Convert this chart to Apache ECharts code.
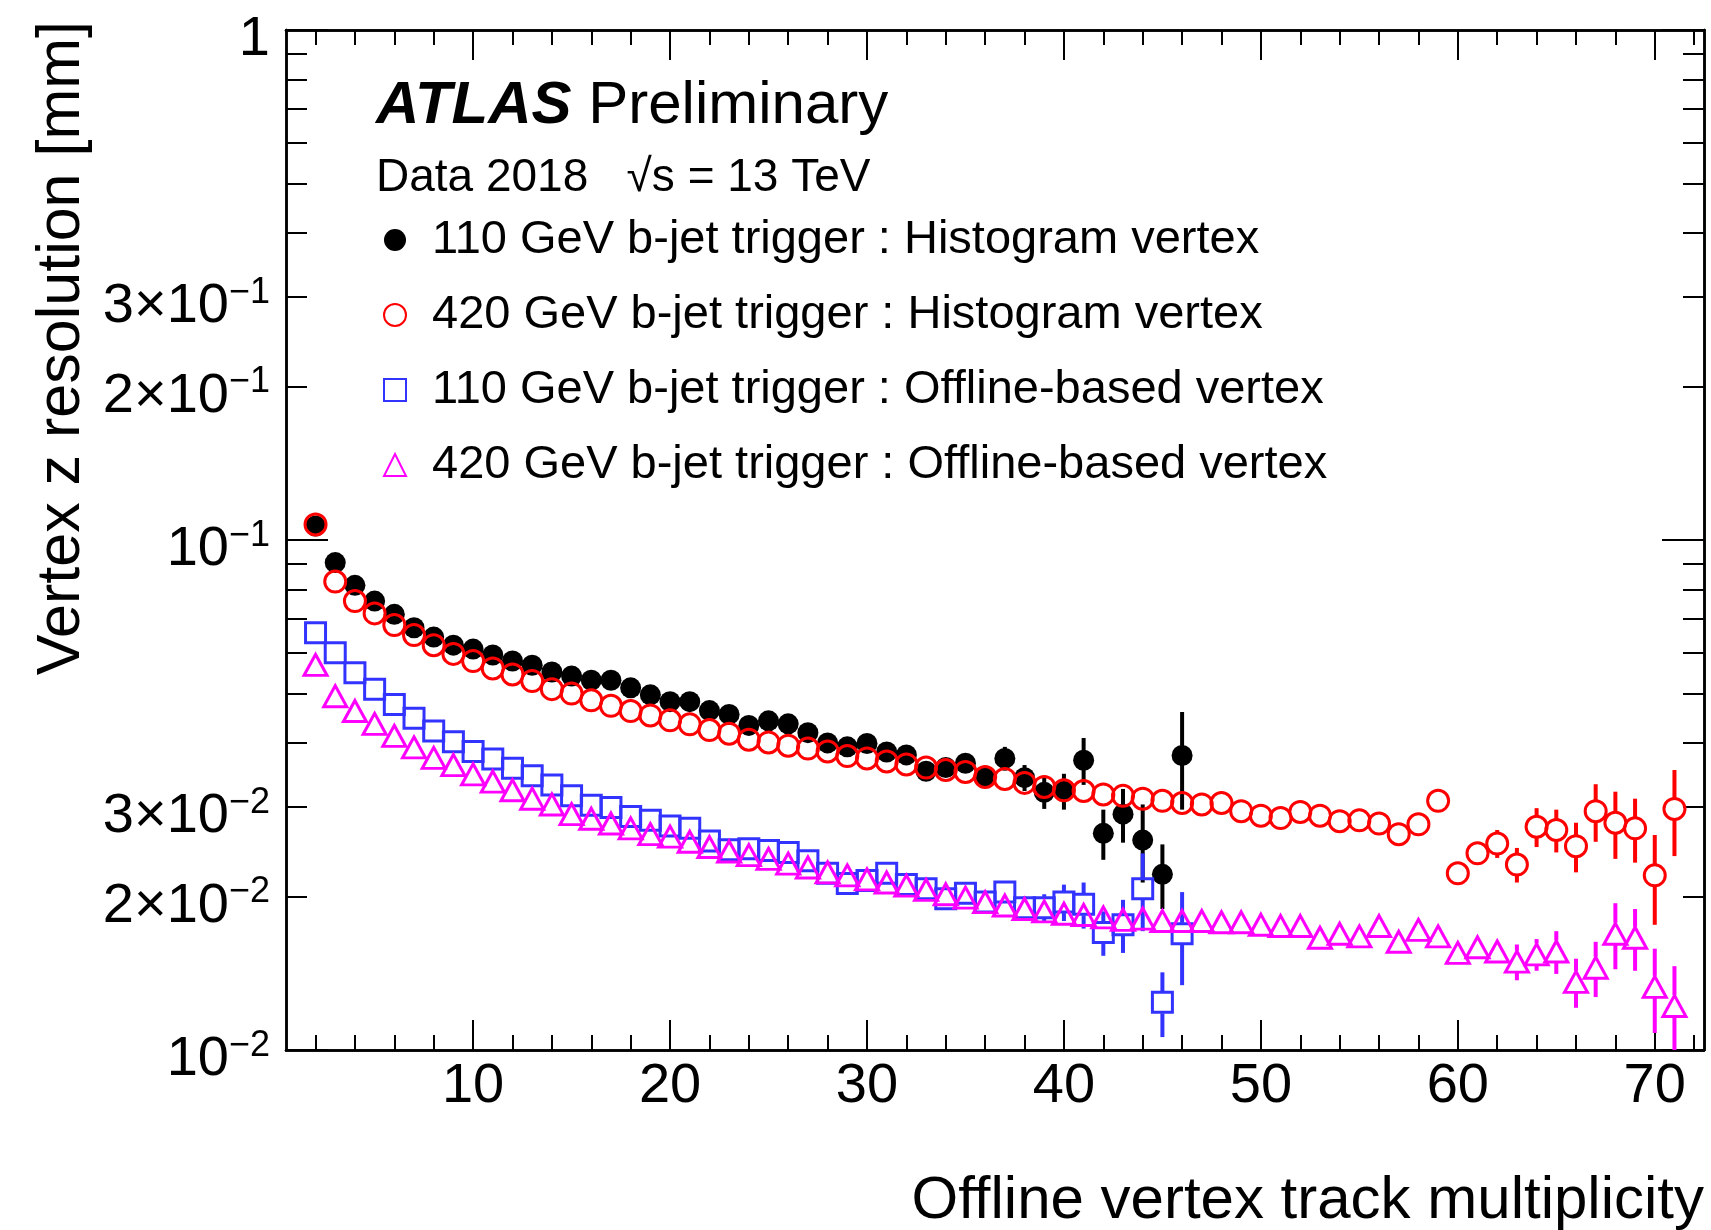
<!DOCTYPE html>
<html>
<head>
<meta charset="utf-8">
<script src="https://cdn.jsdelivr.net/npm/echarts@6/dist/echarts.min.js"></script>
<style>html,body{margin:0;padding:0;background:#fff}#c{width:1711px;height:1230px}</style>
</head>
<body>
<div id="c"></div>
<script>
// Offline vertex track multiplicity (bin centres)
const nLow = [2,3,4,5,6,7,8,9,10,11,12,13,14,15,16,17,18,19,20,21,22,23,24,25,26,27,28,29,30,31,32,33,34,35,36,37,38,39,40,41,42,43,44,45,46];
const nAll = [2,3,4,5,6,7,8,9,10,11,12,13,14,15,16,17,18,19,20,21,22,23,24,25,26,27,28,29,30,31,32,33,34,35,36,37,38,39,40,41,42,43,44,45,46,47,48,49,50,51,52,53,54,55,56,57,58,59,60,61,62,63,64,65,66,67,68,69,70,71];

// 110 GeV b-jet trigger : Histogram vertex
const hist110 = [0.1065,0.0903,0.0815,0.0759,0.0715,0.0673,0.0645,0.0622,0.0611,0.0595,
  0.0579,0.0568,0.0551,0.0541,0.0531,0.0531,0.0513,0.0497,0.0482,0.0482,
  0.0463,0.0455,0.0433,0.0442,0.0436,0.0419,0.0400,0.0393,0.0399,0.0384,
  0.0379,0.0352,0.0358,0.0365,0.0343,0.0373,0.0342,0.0320,0.0322,0.0370,
  0.0266,0.0290,0.0258,0.0221,0.0378];
const hist110Err = [0,0,0,0,0,0,0,0,0,0,0,0,0,0,0,0,0,0,0,0,0,0,0,0,0,0,0,0,
  0.0008,0.0008,0.0008,0.0008,0.0008,0.0008,0.0008,
  0.0020,0.0020,0.0023,0.0026,0.0039,0.0030,0.0035,0.0045,0.0032,0.0082];

// 420 GeV b-jet trigger : Histogram vertex
const hist420 = [0.1073,0.0829,0.0759,0.0718,0.0681,0.0651,0.0622,0.0598,0.0579,0.0560,
  0.0545,0.0529,0.0510,0.0500,0.0485,0.0473,0.0462,0.0453,0.0443,0.0435,
  0.0424,0.0417,0.0406,0.0401,0.0395,0.0390,0.0385,0.0377,0.0373,0.0368,
  0.0363,0.0358,0.0354,0.0351,0.0343,0.0340,0.0334,0.0328,0.0323,0.0322,
  0.0317,0.0315,0.0311,0.0308,0.0305,0.0303,0.0305,0.0294,0.0288,0.0285,
  0.0293,0.0288,0.0281,0.0282,0.0278,0.0265,0.0277,0.0308,0.0222,0.0243,
  0.0254,0.0231,0.0274,0.0270,0.0251,0.0294,0.0279,0.0272,0.0220,0.0297];
const hist420Err = [0,0,0,0,0,0,0,0,0,0,0,0,0,0,0,0,0,0,0,0,0,0,0,0,0,0,0,0,0,0,0,0,0,0,0,0,0,0,0,0,0,0,0,0,0,0,0,0,
  0.0003,0.0003,0.0003,0.0003,0.0003,0.0003,0.0003,0.0003,0.0003,0.0003,
  0.0004,0.0008,0.0016,0.0018,0.0024,0.0026,0.0028,0.0038,0.0042,0.0039,0.0044,0.0057];

// 110 GeV b-jet trigger : Offline-based vertex
const offl110 = [0.0658,0.0601,0.0549,0.0510,0.0476,0.0447,0.0422,0.0402,0.0385,0.0372,
  0.0357,0.0345,0.0331,0.0315,0.0302,0.0299,0.0287,0.0282,0.0275,0.0272,
  0.0257,0.0247,0.0248,0.0246,0.0244,0.0235,0.0222,0.0212,0.0215,0.0222,
  0.0211,0.0207,0.0198,0.0203,0.0195,0.0204,0.0190,0.0190,0.0195,0.0193,
  0.0170,0.0176,0.0207,0.0124,0.0169];
const offl110Err = [0,0,0,0,0,0,0,0,0,0,0,0,0,0,0,0,0,0,0,0,0,0,0,0,0,0,0,0,0,0,0,0,
  0.0005,0.0006,0.0007,0.0008,0.0010,0.0012,0.0016,0.0020,0.0017,0.0021,0.0036,0.0018,0.0035];

// 420 GeV b-jet trigger : Offline-based vertex
const offl420 = [0.0569,0.0494,0.0462,0.0436,0.0413,0.0392,0.0374,0.0362,0.0347,0.0336,
  0.0323,0.0311,0.0303,0.0290,0.0284,0.0278,0.0272,0.0265,0.0262,0.0256,
  0.0250,0.0245,0.0241,0.0237,0.0232,0.0228,0.0223,0.0220,0.0216,0.0213,
  0.0210,0.0206,0.0202,0.0199,0.0195,0.0192,0.0189,0.0187,0.0185,0.0184,
  0.0182,0.0180,0.0181,0.0179,0.0179,0.0179,0.0178,0.0178,0.0176,0.0175,
  0.0175,0.0166,0.0169,0.0167,0.0175,0.0163,0.0172,0.0167,0.0155,0.0159,
  0.0156,0.0149,0.0154,0.0156,0.0136,0.0145,0.0169,0.0166,0.0133,0.0122];
const offl420Err = [0,0,0,0,0,0,0,0,0,0,0,0,0,0,0,0,0,0,0,0,0,0,0,0,0,0,0,0,0,0,0,0,0,0,0,0,0,0,0,0,0,0,0,
  0.0003,0.0003,0.0003,0.0003,0.0003,0.0003,0.0003,0.0003,0.0003,0.0003,0.0003,0.0003,0.0003,0.0003,0.0003,
  0.0003,0.0006,0.0007,0.0012,0.0011,0.0015,0.0015,0.0018,0.0025,0.0023,0.0025,0.0024];

const seriesNames = [
  '110 GeV b-jet trigger : Histogram vertex',
  '420 GeV b-jet trigger : Histogram vertex',
  '110 GeV b-jet trigger : Offline-based vertex',
  '420 GeV b-jet trigger : Offline-based vertex'
];

// axis ticks
const xMajor = [10,20,30,40,50,60,70];
const xMinor = [2,4,6,8,12,14,16,18,22,24,26,28,32,34,36,38,42,44,46,48,52,54,56,58,62,64,66,68,72];
const yMajor = [0.01,0.1,1];
const yMinor = [0.02,0.03,0.04,0.05,0.06,0.07,0.08,0.09,0.2,0.3,0.4,0.5,0.6,0.7,0.8,0.9];
const yLabels = [0.01,0.02,0.03,0.1,0.2,0.3,1];

const FONT = '"Liberation Sans", Arial, Helvetica, sans-serif';
const BLACK = '#000000', RED = '#ff0000', BLUE = '#3333ff', MAG = '#ff00ff';

function pts(xs, ys) { return xs.map((x, i) => [x, ys[i]]); }
function errPts(xs, ys, es) { return xs.map((x, i) => [x, ys[i], es[i]]); }

function errRender(color, gap) {
  return function (params, api) {
    const x = api.value(0), v = api.value(1), e = api.value(2);
    if (!(e > 0)) return null;
    const c = api.coord([x, v]);
    const lo = api.coord([x, Math.max(v - e, 1e-4)]);
    const hi = api.coord([x, v + e]);
    const st = { stroke: color, lineWidth: 4 };
    const ch = [];
    if (lo[1] - c[1] > gap) ch.push({ type: 'line', shape: { x1: c[0], y1: c[1] + gap, x2: c[0], y2: lo[1] }, style: st });
    if (c[1] - hi[1] > gap) ch.push({ type: 'line', shape: { x1: c[0], y1: hi[1], x2: c[0], y2: c[1] - gap }, style: st });
    return { type: 'group', children: ch };
  };
}

function fmtY(v) {
  const exp = Math.floor(Math.log10(v) + 1e-9);
  const m = Math.round(v / Math.pow(10, exp));
  if (exp === 0 && m === 1) return '{m|1}';
  return '{m|' + (m === 1 ? '' : m + '×') + '10}{s|−' + (-exp) + '}';
}

const axisLineStyle = { color: BLACK, width: 2.5 };
function xAx(pos, vals, len, labels) {
  return {
    type: 'value', min: 0.5, max: 72.5, position: pos,
    axisLine: { show: true, onZero: false, lineStyle: axisLineStyle },
    axisTick: { show: true, inside: true, length: len, customValues: vals, lineStyle: { color: BLACK, width: 2 } },
    axisLabel: labels ? { show: true, customValues: xMajor, fontSize: 56, color: BLACK, fontFamily: FONT, margin: 9 } : { show: false },
    splitLine: { show: false }
  };
}
function yAx(pos, vals, len, labels) {
  return {
    type: 'log', logBase: 10, min: 0.01, max: 1, position: pos,
    axisLine: { show: true, onZero: false, lineStyle: axisLineStyle },
    axisTick: { show: true, inside: true, length: len, customValues: vals, lineStyle: { color: BLACK, width: 2 } },
    axisLabel: labels ? {
      show: true, customValues: yLabels, formatter: fmtY, margin: 16, padding: [16, 0, 0, 0],
      rich: {
        m: { fontSize: 56, fontFamily: FONT, color: BLACK, lineHeight: 60, verticalAlign: 'bottom' },
        s: { fontSize: 36, fontFamily: FONT, color: BLACK, lineHeight: 60, verticalAlign: 'top' }
      }
    } : { show: false },
    splitLine: { show: false }
  };
}

const chart = echarts.init(document.getElementById('c'), null, { renderer: 'canvas' });
chart.setOption({
  animation: false,
  backgroundColor: '#ffffff',
  grid: { left: 286, right: 7, top: 30, bottom: 180, containLabel: false },
  xAxis: [
    xAx('bottom', xMajor, 30, true),
    xAx('bottom', xMinor, 15, false),
    xAx('top', xMajor, 30, false),
    xAx('top', xMinor, 15, false)
  ],
  yAxis: [
    yAx('left', yMajor, 42, true),
    yAx('left', yMinor, 21, false),
    yAx('right', yMajor, 42, false),
    yAx('right', yMinor, 21, false)
  ],
  legend: {
    show: true, orient: 'vertical', left: 378, top: 210,
    itemWidth: 22, itemHeight: 22, itemGap: 25,
    data: seriesNames,
    textStyle: { fontSize: 47, fontFamily: FONT, color: BLACK, lineHeight: 50, padding: [0, 0, 0, 21] },
    selectedMode: false
  },
  graphic: [
    { type: 'text', left: 376, top: 76, style: {
      text: '{a|ATLAS}{b| Preliminary}',
      rich: {
        a: { fontSize: 60, fontWeight: 'bold', fontStyle: 'italic', fontFamily: FONT, fill: BLACK },
        b: { fontSize: 60, fontFamily: FONT, fill: BLACK }
      } } },
    { type: 'text', left: 376, top: 155, style: { text: 'Data 2018   √s = 13 TeV', fontSize: 46, fontFamily: FONT, fill: BLACK } },
    { type: 'text', right: 7, top: 1171, style: { text: 'Offline vertex track multiplicity', fontSize: 60, fontFamily: FONT, fill: BLACK } },
    { type: 'text', x: 62, y: 21, rotation: Math.PI / 2, style: { text: 'Vertex z resolution [mm]', fontSize: 61, fontFamily: FONT, fill: BLACK, align: 'right', verticalAlign: 'middle' } }
  ],
  series: [
    { type: 'custom', name: 'err0', renderItem: errRender(BLACK, 0), data: errPts(nLow, hist110, hist110Err), encode: { x: 0, y: 1 }, clip: true, z: 1, silent: true },
    { type: 'custom', name: 'err1', renderItem: errRender(RED, 11), data: errPts(nAll, hist420, hist420Err), encode: { x: 0, y: 1 }, clip: true, z: 1, silent: true },
    { type: 'custom', name: 'err2', renderItem: errRender(BLUE, 11), data: errPts(nLow, offl110, offl110Err), encode: { x: 0, y: 1 }, clip: true, z: 1, silent: true },
    { type: 'custom', name: 'err3', renderItem: errRender(MAG, 11), data: errPts(nAll, offl420, offl420Err), encode: { x: 0, y: 1 }, clip: true, z: 1, silent: true },
    { type: 'scatter', name: seriesNames[0], data: pts(nLow, hist110), symbol: 'circle', symbolSize: 21,
      itemStyle: { color: BLACK, borderWidth: 0, opacity: 1 }, z: 2, silent: true },
    { type: 'scatter', name: seriesNames[1], data: pts(nAll, hist420), symbol: 'circle', symbolSize: 21,
      itemStyle: { color: 'rgba(0,0,0,0)', borderColor: RED, borderWidth: 3, opacity: 1 }, z: 3, silent: true },
    { type: 'scatter', name: seriesNames[2], data: pts(nLow, offl110), symbol: 'rect', symbolSize: 20,
      itemStyle: { color: 'rgba(0,0,0,0)', borderColor: BLUE, borderWidth: 3, opacity: 1 }, z: 4, silent: true },
    { type: 'scatter', name: seriesNames[3], data: pts(nAll, offl420), symbol: 'triangle', symbolSize: [23, 21],
      itemStyle: { color: 'rgba(0,0,0,0)', borderColor: MAG, borderWidth: 3, opacity: 1 }, z: 5, silent: true }
  ]
});
</script>
</body>
</html>
